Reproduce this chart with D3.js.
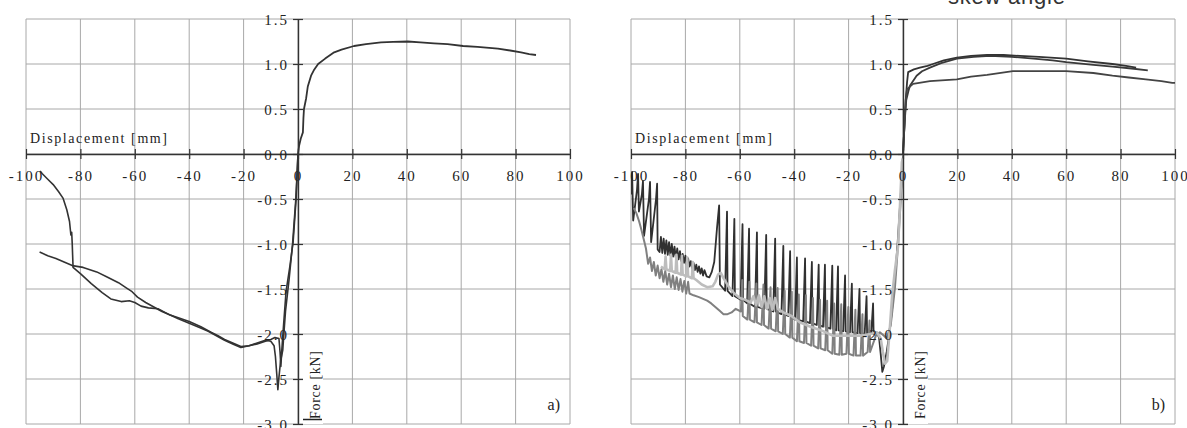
<!DOCTYPE html>
<html>
<head>
<meta charset="utf-8">
<script src="https://cdn.jsdelivr.net/npm/d3@7"></script>
<style>
  body { margin: 0; background: #fff; }
  svg { display: block; }
</style>
</head>
<body>
<div id="chart"></div>
<script>
// Data
const xTicks = [-100, -80, -60, -40, -20, 0, 20, 40, 60, 80, 100];
const xTickLabels = ["-100", "-80", "-60", "-40", "-20", "0", "20", "40", "60", "80", "100"];
const yTicks = [1.5, 1.0, 0.5, 0.0, -0.5, -1.0, -1.5, -2.0, -2.5, -3.0];
const yTickLabels = ["1.5", "1.0", "0.5", "0.0", "-0.5", "-1.0", "-1.5", "-2.0", "-2.5", "-3.0"];

// panel a) - one test, loading then reversed
const leftPos = [[0,0],[0.4,0.09],[1.0,0.17],[1.8,0.24],[2.0,0.4],[2.2,0.5],[3.0,0.62],[3.6,0.75],[4.8,0.87],[6.0,0.94],[7.4,1.0],[10,1.06],[13.3,1.13],[16,1.16],[20.6,1.2],[25,1.22],[30.5,1.24],[35,1.245],[40.4,1.25],[45,1.24],[50,1.23],[55,1.22],[60.7,1.2],[66,1.19],[73.5,1.17],[78,1.15],[82,1.13],[85,1.11],[87.5,1.1]];
const leftNegA = [[0,0],[-0.7,-0.5],[-1.8,-0.98],[-3.0,-1.25],[-4.4,-1.53],[-5.5,-1.98],[-6.0,-2.2],[-6.3,-2.36],[-6.6,-2.2],[-7.0,-2.05],[-8.5,-2.04],[-10,-2.06],[-12,-2.08],[-15,-2.11],[-18,-2.13],[-21,-2.14],[-24,-2.1],[-27,-2.06],[-29.4,-2.02],[-32,-1.98],[-35.7,-1.92],[-40,-1.86],[-44,-1.82],[-47,-1.79],[-50,-1.75],[-53,-1.7],[-56,-1.65],[-59,-1.59],[-61,-1.53],[-63,-1.49],[-66,-1.43],[-70,-1.37],[-74,-1.31],[-79,-1.26],[-83,-1.24],[-86,-1.2],[-89,-1.16],[-92,-1.13],[-95,-1.09]];
const leftNegB = [[0,0],[-0.8,-0.5],[-2.0,-1.0],[-3.3,-1.4],[-4.6,-1.75],[-5.2,-2.0],[-5.6,-2.18],[-6.4,-2.3],[-7.0,-2.48],[-7.4,-2.62],[-7.8,-2.45],[-8.3,-2.25],[-8.8,-2.13],[-10,-2.08],[-12,-2.07],[-15,-2.1],[-18,-2.13],[-21,-2.15],[-24,-2.11],[-27,-2.07],[-30,-2.02],[-33,-1.97],[-36,-1.93],[-40,-1.88],[-44,-1.83],[-47,-1.79],[-51.5,-1.72],[-55,-1.71],[-57.7,-1.69],[-60,-1.65],[-62,-1.63],[-65,-1.64],[-68.8,-1.61],[-72,-1.54],[-76,-1.44],[-80,-1.33],[-82.7,-1.26],[-83,-1.0],[-83.2,-0.87],[-83.5,-0.9],[-84,-0.75],[-85,-0.62],[-86.4,-0.49],[-88,-0.42],[-90,-0.34],[-92,-0.28],[-94,-0.22],[-94.8,-0.19]];

// panel b) - several tests
const rightPosA = [[0,0],[0.5,0.3],[1.0,0.6],[1.5,0.8],[1.9,0.91],[4,0.94],[6.2,0.96],[9,0.98],[11,1.0],[15,1.04],[19.8,1.07],[25,1.09],[30.9,1.1],[37,1.1],[43,1.09],[50,1.08],[60,1.06],[68,1.03],[77,1.0],[82,0.98],[85.7,0.96]];
const rightPosB = [[0,0],[0.6,0.35],[1.2,0.6],[2.0,0.7],[2.6,0.76],[5,0.87],[7,0.92],[9.9,0.96],[14,1.01],[19.8,1.06],[26,1.08],[32,1.09],[40,1.08],[48,1.06],[55,1.04],[60,1.02],[70,0.99],[77,0.97],[84,0.95],[90,0.93]];
const rightPosC = [[0,0],[0.5,0.3],[1.0,0.6],[1.5,0.72],[3.7,0.78],[9.9,0.81],[19.8,0.83],[25,0.86],[30.9,0.88],[40.4,0.92],[50,0.92],[60,0.92],[70,0.9],[77,0.87],[83,0.85],[89.3,0.83],[95,0.81],[99,0.79],[100,0.79]];
const rightNegDark = [[0,-0.02],[-0.5,-0.3],[-1.2,-0.62],[-2.0,-1.0],[-3.0,-1.4],[-4.0,-1.72],[-5.0,-2.0],[-6.0,-2.2],[-7.0,-2.36],[-7.6,-2.42],[-8.2,-2.22],[-8.8,-2.04],[-9.8,-1.98],
  [-10.8,-2.0],[-11.0,-1.66],[-11.7,-2.0],[-13.2,-2.0],[-13.4,-1.58],[-14.1,-2.0],[-15.8,-1.99],[-16.0,-1.5],[-16.7,-1.99],
  [-18.6,-1.98],[-18.8,-1.44],[-19.5,-1.98],[-21.1,-1.97],[-21.3,-1.35],[-22.0,-1.97],[-23.7,-1.96],[-23.9,-1.25],[-24.6,-1.96],
  [-25.8,-1.94],[-26.0,-1.24],[-26.7,-1.94],[-28.5,-1.92],[-28.7,-1.23],[-29.4,-1.92],[-30.8,-1.9],[-31.0,-1.23],[-31.7,-1.9],
  [-33.3,-1.88],[-33.5,-1.2],[-34.2,-1.88],[-35.8,-1.86],[-36.0,-1.16],[-36.7,-1.86],[-38.8,-1.84],[-39.0,-1.15],[-39.7,-1.84],
  [-41.3,-1.8],[-41.5,-1.08],[-42.2,-1.8],[-43.8,-1.78],[-44.0,-1.02],[-44.7,-1.78],[-46.8,-1.75],[-47.0,-0.94],[-47.7,-1.75],
  [-50.1,-1.72],[-50.3,-0.9],[-51.0,-1.72],[-53.5,-1.7],[-53.7,-0.87],[-54.4,-1.7],[-56.4,-1.66],[-56.6,-0.83],[-57.3,-1.66],
  [-58.8,-1.62],[-59.0,-0.78],[-59.7,-1.62],[-61.8,-1.58],[-62.0,-0.72],[-62.7,-1.58],[-64.5,-1.52],[-64.7,-0.64],[-65.4,-1.52],
  [-67.3,-1.45],[-67.6,-0.57],[-68.4,-0.83],[-69.4,-1.2],[-70.3,-1.31],[-71.2,-1.37],[-72.2,-1.36],
  [-73,-1.29],[-73.5,-1.35],[-74,-1.27],[-74.5,-1.33],[-75,-1.25],[-75.5,-1.31],[-76,-1.23],[-76.5,-1.29],[-77,-1.21],[-77.5,-1.27],
  [-78,-1.19],[-78.5,-1.25],[-79,-1.16],[-79.5,-1.23],[-80,-1.13],[-80.5,-1.21],[-81,-1.11],[-81.5,-1.19],[-82,-1.08],[-82.5,-1.17],
  [-83,-1.05],[-83.5,-1.16],[-84,-1.03],[-84.5,-1.14],[-85,-1.0],[-85.5,-1.13],[-86,-0.98],[-86.5,-1.12],[-87,-0.96],[-87.5,-1.11],
  [-88,-0.94],[-88.5,-1.1],[-89,-0.92],[-89.5,-1.09],
  [-90.2,-1.06],[-90.4,-0.33],[-90.8,-0.5],[-92.6,-0.98],[-93,-0.31],[-93.4,-0.5],[-95.2,-0.91],[-95.6,-0.3],[-96,-0.45],
  [-97.1,-0.64],[-97.4,-0.22],[-97.8,-0.4],[-99.2,-0.74],[-99.6,-0.2],[-100,-0.45]];
const rightNegMid = [[0,-0.02],[-0.8,-0.5],[-1.8,-1.0],[-3.0,-1.5],[-4.5,-1.9],[-6.0,-2.05],[-7.0,-2.02],[-8.5,-1.98],[-10,-2.02],
  [-12.1,-2.2],[-12.3,-1.85],[-13.0,-2.2],[-14.7,-2.24],[-14.9,-1.78],[-15.6,-2.24],[-17.3,-2.24],[-17.5,-1.73],[-18.2,-2.24],
  [-19.9,-2.22],[-20.1,-1.7],[-20.8,-2.22],[-22.5,-2.23],[-22.7,-1.67],[-23.4,-2.23],[-25.1,-2.22],[-25.3,-1.66],[-26.0,-2.22],
  [-27.7,-2.18],[-27.9,-1.63],[-28.6,-2.18],[-30.3,-2.16],[-30.5,-1.62],[-31.2,-2.16],[-32.9,-2.13],[-33.1,-1.6],[-33.8,-2.13],
  [-35.5,-2.1],[-35.7,-1.57],[-36.4,-2.1],[-38.1,-2.08],[-38.3,-1.56],[-39.0,-2.08],[-40.7,-2.04],[-40.9,-1.53],[-41.6,-2.04],
  [-43.3,-2.0],[-43.5,-1.52],[-44.2,-2.0],[-45.9,-1.97],[-46.1,-1.49],[-46.8,-1.97],[-48.5,-1.94],[-48.7,-1.48],[-49.4,-1.94],
  [-51.1,-1.9],[-51.3,-1.45],[-52.0,-1.9],[-53.7,-1.87],[-53.9,-1.44],[-54.6,-1.87],[-56.3,-1.84],[-56.5,-1.42],[-57.2,-1.84],
  [-58.9,-1.8],[-59.1,-1.4],[-59.6,-1.75],
  [-61.5,-1.72],[-63,-1.76],[-64.5,-1.78],[-66,-1.78],[-67.5,-1.74],[-69,-1.7],[-70.5,-1.66],[-72,-1.63],[-75,-1.59],[-77,-1.57],[-78.5,-1.55],
  [-79,-1.42],[-79.7,-1.55],[-80.4,-1.41],[-81.1,-1.53],[-81.8,-1.39],[-82.5,-1.51],[-83.2,-1.37],[-83.9,-1.5],[-84.6,-1.35],[-85.3,-1.48],
  [-86,-1.33],[-86.7,-1.45],[-87.4,-1.3],[-88.1,-1.42],[-88.8,-1.28],[-89.5,-1.38],[-90.2,-1.24],[-90.9,-1.35],[-91.6,-1.2],[-92.3,-1.3],
  [-93,-1.15],[-93.7,-1.22],[-94.5,-1.05],[-95.3,-0.95],[-96.2,-0.84],[-97,-0.75],[-98,-0.66],[-99,-0.6]];
const rightNegLight = [[0,-0.05],[-0.4,-0.09],[-1.0,-0.5],[-1.8,-1.02],[-3.0,-1.3],[-4.0,-1.58],[-5.0,-2.0],[-5.8,-2.3],[-6.6,-2.33],[-7.4,-2.2],[-8.2,-2.05],[-9.6,-1.98],
  [-12,-2.0],[-15.8,-2.02],[-20,-2.02],[-25.7,-2.02],[-30,-1.96],[-34,-1.92],[-38,-1.87],[-41,-1.8],[-44,-1.76],[-46,-1.72],
  [-47,-1.6],[-48,-1.73],[-49,-1.6],[-50,-1.72],[-51,-1.58],[-52,-1.7],[-53,-1.57],[-54,-1.68],[-55,-1.58],[-56,-1.65],
  [-58,-1.62],[-60,-1.6],[-62,-1.55],[-64,-1.48],[-66,-1.38],[-67,-1.32],[-68,-1.34],[-69,-1.42],[-70,-1.47],[-72,-1.48],[-74,-1.45],[-76,-1.4],
  [-77,-1.38],[-77.3,-1.2],[-77.6,-1.38],[-79,-1.36],[-79.3,-1.15],[-79.6,-1.36],[-81,-1.34],[-81.3,-1.13],[-81.6,-1.34],
  [-83,-1.32],[-83.3,-1.12],[-83.6,-1.32],[-85,-1.3],[-85.3,-1.12],[-85.6,-1.3],[-87,-1.28],[-87.3,-1.14],[-87.6,-1.28],[-89,-1.25]];

const width = 1187, height = 428;
const serif = "'Liberation Serif', 'Times New Roman', serif";

const panels = [
  { left: 26, right: 570, label: "a)", underline: true,
    series: [
      { data: leftNegA, color: "#333", w: 1.6 },
      { data: leftNegB, color: "#333", w: 1.6 },
      { data: leftPos, color: "#333", w: 1.8 }
    ] },
  { left: 631, right: 1175, label: "b)", underline: false,
    series: [
      { data: rightNegDark, color: "#303030", w: 1.8 },
      { data: rightNegMid, color: "#808080", w: 2.0 },
      { data: rightNegLight, color: "#bdbdbd", w: 2.6 },
      { data: rightPosA, color: "#333", w: 1.8 },
      { data: rightPosB, color: "#3a3a3a", w: 1.8 },
      { data: rightPosC, color: "#444", w: 1.8 }
    ] }
];

const svg = d3.select("#chart").append("svg")
  .attr("width", width)
  .attr("height", height);

svg.append("rect").attr("width", width).attr("height", height).attr("fill", "#fff");

const y = d3.scaleLinear().domain([-3, 1.5]).range([424, 19]);

panels.forEach((p, pi) => {
  const x = d3.scaleLinear().domain([-100, 100]).range([p.left, p.right]);
  const g = svg.append("g");

  // grid
  g.selectAll(".vgrid").data(xTicks).enter().append("line")
    .attr("x1", d => x(d)).attr("x2", d => x(d))
    .attr("y1", y(1.5)).attr("y2", y(-3))
    .attr("stroke", "#a8a8a8").attr("stroke-width", 1);
  g.selectAll(".hgrid").data(yTicks).enter().append("line")
    .attr("x1", x(-100)).attr("x2", x(100))
    .attr("y1", d => y(d)).attr("y2", d => y(d))
    .attr("stroke", "#a8a8a8").attr("stroke-width", 1);

  // white box behind the force label
  g.append("rect")
    .attr("x", x(0) + 5).attr("y", 346)
    .attr("width", 20).attr("height", 78)
    .attr("fill", "#fff");

  // curves
  g.append("clipPath").attr("id", "clip" + pi)
    .append("rect")
    .attr("x", x(-100)).attr("y", y(1.5))
    .attr("width", x(100) - x(-100)).attr("height", y(-3) - y(1.5));

  const line = d3.line().x(d => x(d[0])).y(d => y(d[1]));
  const curves = g.append("g").attr("clip-path", `url(#clip${pi})`);
  p.series.forEach(s => {
    curves.append("path")
      .attr("d", line(s.data))
      .attr("fill", "none")
      .attr("stroke", s.color)
      .attr("stroke-width", s.w)
      .attr("stroke-linejoin", "round");
  });

  // x axis through zero
  const xAxis = d3.axisBottom(x)
    .tickValues(xTicks)
    .tickSize(5)
    .tickSizeOuter(0)
    .tickFormat((d, i) => xTickLabels[i]);
  const gx = g.append("g")
    .attr("transform", `translate(0,${y(0)})`)
    .call(xAxis);
  gx.select(".domain").attr("stroke", "#333").attr("stroke-width", 1.4);
  gx.selectAll(".tick line").attr("y1", -5).attr("stroke", "#333").attr("stroke-width", 1.2);
  gx.selectAll(".tick text")
    .attr("y", 27).attr("dy", 0)
    .attr("font-family", serif)
    .attr("font-size", 15)
    .attr("letter-spacing", 2)
    .attr("fill", "#222");

  // y axis through zero
  const yAxis = d3.axisLeft(y)
    .tickValues(yTicks)
    .tickSize(5)
    .tickSizeOuter(0)
    .tickPadding(4)
    .tickFormat((d, i) => yTickLabels[i]);
  const gy = g.append("g")
    .attr("transform", `translate(${x(0)},0)`)
    .call(yAxis);
  gy.select(".domain").attr("stroke", "#333").attr("stroke-width", 1.4);
  gy.selectAll(".tick line").attr("x1", 5).attr("stroke", "#333").attr("stroke-width", 1.2);
  gy.selectAll(".tick text")
    .attr("dy", "0.34em")
    .attr("font-family", serif)
    .attr("font-size", 15)
    .attr("letter-spacing", 2)
    .attr("fill", "#222");

  // axis titles
  g.append("text")
    .attr("x", x(-100) + 4).attr("y", 143)
    .attr("font-family", serif)
    .attr("font-size", 14)
    .attr("textLength", 137)
    .attr("lengthAdjust", "spacing")
    .attr("fill", "#222")
    .text("Displacement [mm]");

  g.append("text")
    .attr("transform", `translate(${x(0) + 22},419) rotate(-90)`)
    .attr("font-family", serif)
    .attr("font-size", 14)
    .attr("textLength", 68)
    .attr("lengthAdjust", "spacing")
    .attr("fill", "#222")
    .text("Force [kN]");

  if (p.underline) {
    g.append("line")
      .attr("x1", x(0) + 5).attr("x2", x(0) + 24)
      .attr("y1", 419.5).attr("y2", 419.5)
      .attr("stroke", "#222").attr("stroke-width", 1.5);
  }

  g.append("text")
    .attr("x", x(100) - 10).attr("y", 410)
    .attr("text-anchor", "end")
    .attr("font-family", serif)
    .attr("font-size", 16)
    .attr("fill", "#222")
    .text(p.label);
});

// title fragment cut by the top edge
svg.append("text")
  .attr("x", 948).attr("y", 4)
  .attr("font-family", "'Liberation Sans', Arial, sans-serif")
  .attr("font-size", 22)
  .attr("textLength", 117)
  .attr("lengthAdjust", "spacing")
  .attr("fill", "#333")
  .text("skew angle");
</script>
</body>
</html>
